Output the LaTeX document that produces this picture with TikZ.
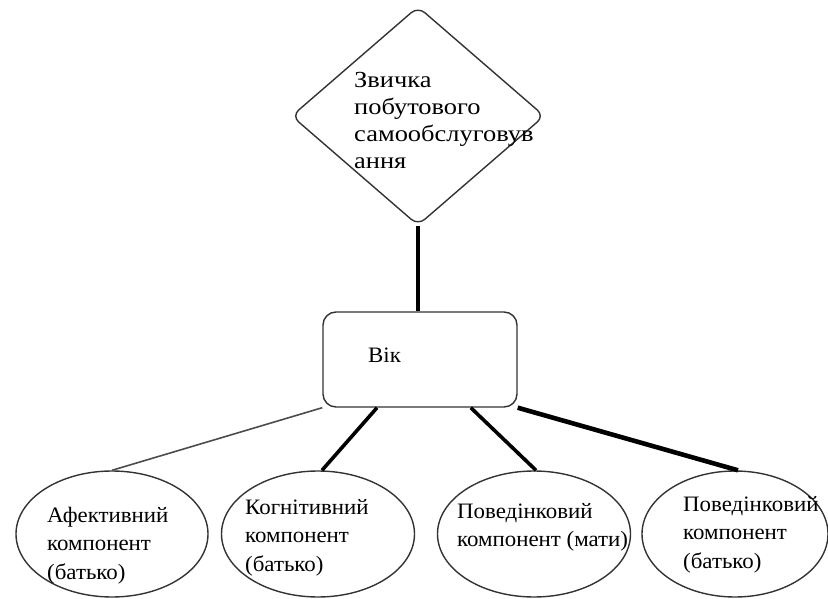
\documentclass[tikz,border=0pt]{standalone}
\usepackage{fontspec}
\setmainfont{Liberation Serif}
\newfontfamily\diafont[FakeStretch=1.15]{Liberation Serif}
\newfontfamily\compfont[FakeStretch=1.04]{Liberation Serif}
\usetikzlibrary{shapes.geometric,calc}
\begin{document}
\begin{tikzpicture}[x=1pt,y=-1pt,
  shapeline/.style={draw=black!80, line width=1.4pt},
  txt/.style={align=left, inner sep=0pt, anchor=north west, font=\compfont\fontsize{22}{28.5}\selectfont},
  diatxt/.style={align=left, inner sep=0pt, anchor=north west, font=\diafont\fontsize{23}{27}\selectfont},
  comp/.style={ellipse, shapeline, minimum height=126pt, inner sep=0pt},
  thinlink/.style={draw=black!70, line width=1.6pt},
  thicklink/.style={draw=black, line width=3.6pt},
  heavylink/.style={draw=black, line width=4.6pt}]
\useasboundingbox (0,0) rectangle (828,599);
\node[diamond, shapeline, minimum width=253pt, minimum height=219pt, inner sep=0pt, rounded corners=9pt] (dia) at (418,116) {};
\node[diatxt] (diatext) at (354,72) {Звичка\\побутового\\самообслуговув\\ання};
\node[draw=black!80, line width=1.4pt, rounded corners=13pt, minimum width=194pt, minimum height=95pt, inner sep=0pt] (vik) at (420,359.5) {};
\node[txt] (viktext) at (368,348) {Вік};
\node[comp, minimum width=192pt] (e1) at (112,534) {};
\node[comp, minimum width=193pt] (e2) at (318,534) {};
\node[comp, minimum width=193pt] (e3) at (534,534) {};
\node[comp, minimum width=186pt] (e4) at (735,534) {};
\node[txt] (t1) at (47,507) {Афективний\\компонент\\(батько)};
\node[txt] (t2) at (245,499) {Когнітивний\\компонент\\(батько)};
\node[txt] (t3) at (457,503) {Поведінковий\\компонент (мати)};
\node[txt] (t4) at (683,496) {Поведінковий\\компонент\\(батько)};
\draw[thicklink] (dia.south) -- (dia.south |- vik.north);
\draw[thinlink] (vik.south west) -- (e1.north);
\draw[thicklink] ($(vik.south west)!0.28!(vik.south east)$) -- ($(e2.north)+(4,0)$);
\draw[thicklink] ($(vik.south west)!0.76!(vik.south east)$) -- ($(e3.north)+(2,0)$);
\draw[heavylink] (vik.south east) -- ($(e4.north)+(3,0)$);
\end{tikzpicture}
\end{document}
